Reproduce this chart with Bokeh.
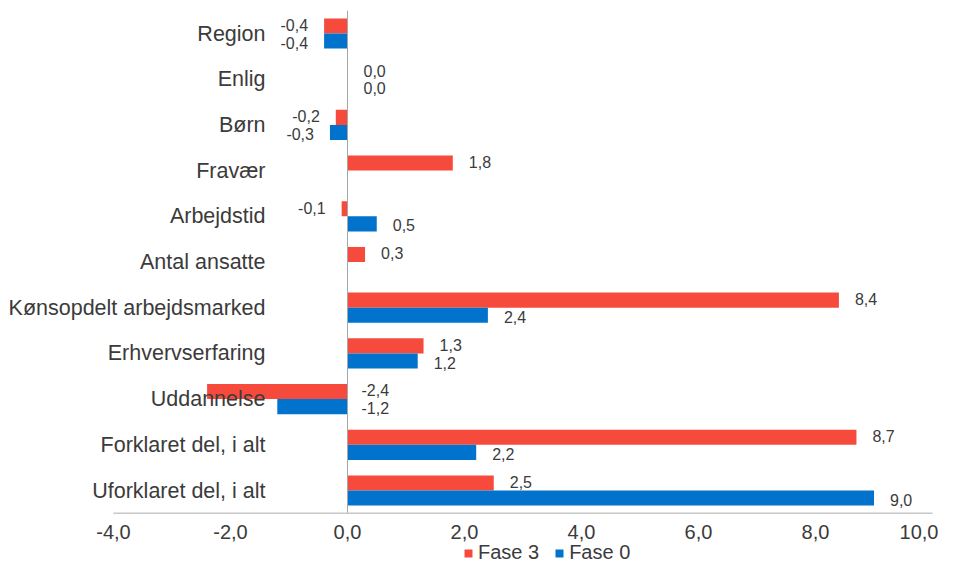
from bokeh.plotting import figure
from bokeh.models import Range1d, FixedTicker, ColumnDataSource, Legend, LegendItem
from bokeh.transform import dodge
from bokeh.core.properties import value
from bokeh.embed import file_html
from bokeh.resources import INLINE

categories = ["Region", "Enlig", "Børn", "Fravær", "Arbejdstid", "Antal ansatte",
              "Kønsopdelt arbejdsmarked", "Erhvervserfaring", "Uddannelse",
              "Forklaret del, i alt", "Uforklaret del, i alt"]
fase3 = [-0.4, 0.0, -0.2, 1.8, -0.1, 0.3, 8.4, 1.3, -2.4, 8.7, 2.5]
fase0 = [-0.4, 0.0, -0.3, None, 0.5, None, 2.4, 1.2, -1.2, 2.2, 9.0]
series_names = ["Fase 3", "Fase 0"]
x_ticks = [-4, -2, 0, 2, 4, 6, 8, 10]
x_tick_labels = ["-4,0", "-2,0", "0,0", "2,0", "4,0", "6,0", "8,0", "10,0"]

RED = "#F64B3C"
BLUE = "#0273CC"
FONT = "Liberation Sans"
TXT = "#3b3b3b"

W, H = 938, 564
# layout in pixels (frame = whole canvas)
X_LEFT_PX, X_RIGHT_PX = 113, 932          # where first / last tick sit
Y_TOP_PX, Y_BOT_PX = 33, 490              # centres of first / last category
n = len(categories)
xs_per_px = (x_ticks[-1] - x_ticks[0]) / (X_RIGHT_PX - X_LEFT_PX)
ys_per_px = (n - 1) / (Y_BOT_PX - Y_TOP_PX)
x_range = Range1d(x_ticks[0] - X_LEFT_PX * xs_per_px, x_ticks[-1] + (W - X_RIGHT_PX) * xs_per_px)
y_range = Range1d(0 - (H - Y_BOT_PX) * ys_per_px, (n - 1) + Y_TOP_PX * ys_per_px)

p = figure(width=W, height=H, output_backend="svg", toolbar_location=None,
           x_range=x_range, y_range=y_range, title=None,
           min_border_left=0, min_border_right=0, min_border_top=0, min_border_bottom=0)
p.outline_line_color = None
p.xgrid.visible = False
p.ygrid.visible = False
p.background_fill_color = "white"
p.border_fill_color = "white"

ypos = [n - 1 - i for i in range(n)]

def clean(vals):
    return [float("nan") if v is None else v for v in vals]

src = ColumnDataSource(dict(y=ypos, f3=clean(fase3), f0=clean(fase0)))
r3 = p.hbar(y=dodge("y", 0.165), left=0, right="f3", height=0.33,
            source=src, fill_color=RED, line_color=None)
r0 = p.hbar(y=dodge("y", -0.165), left=0, right="f0", height=0.33,
            source=src, fill_color=BLUE, line_color=None)

# axis lines (only over the data area)
p.segment(x0=[0], y0=[-0.5], x1=[0], y1=[n - 0.5], line_color="#a6a6a6", line_width=1)
p.segment(x0=[x_ticks[0]], y0=[-0.5], x1=[x_ticks[-1]], y1=[-0.5],
          line_color="#c8c8c8", line_width=1.5)

# data labels
def label_source(vals):
    xs, ys, txt, align, off = [], [], [], [], []
    for y, v in zip(ypos, vals):
        if v is None:
            continue
        s = f"{v:.1f}".replace(".", ",")
        if v <= -1:
            xs.append(0.0); align.append("left"); off.append(14)
        elif v < 0:
            xs.append(v); align.append("right"); off.append(-16)
        else:
            xs.append(v); align.append("left"); off.append(16)
        ys.append(y); txt.append(s)
    return ColumnDataSource(dict(x=xs, y=ys, t=txt, a=align, o=off))

for vals, dy in ((fase3, 0.19), (fase0, -0.2)):
    ls = label_source(vals)
    p.text(x="x", y=dodge("y", dy), text="t", source=ls,
           text_align="a", x_offset="o", text_baseline="middle",
           text_font=value(FONT), text_font_size="16px", text_color=TXT)

# category axis at zero
ya = p.yaxis[0]
ya.fixed_location = 0
ya.ticker = FixedTicker(ticks=ypos)
ya.major_label_overrides = {y: c for y, c in zip(ypos, categories)}
ya.axis_line_color = None
ya.major_tick_line_color = None
ya.minor_tick_line_color = None
ya.major_tick_out = 0
ya.major_tick_in = 0
ya.major_label_standoff = 82
ya.major_label_text_font = FONT
ya.major_label_text_font_size = "21.5px"
ya.major_label_text_color = TXT

# value axis along the bottom of the categories
xa = p.xaxis[0]
xa.fixed_location = -0.5
xa.ticker = FixedTicker(ticks=x_ticks)
xa.major_label_overrides = {t: l for t, l in zip(x_ticks, x_tick_labels)}
xa.axis_line_color = None
xa.major_tick_line_color = None
xa.minor_tick_line_color = None
xa.major_tick_out = 0
xa.major_tick_in = 0
xa.major_label_standoff = 12
xa.major_label_text_font = FONT
xa.major_label_text_font_size = "20px"
xa.major_label_text_color = TXT

legend = Legend(items=[LegendItem(label=series_names[0], renderers=[r3]),
                       LegendItem(label=series_names[1], renderers=[r0])],
                location=(463, 0), orientation="horizontal",
                glyph_width=10, glyph_height=10, label_standoff=5, spacing=15,
                padding=0, margin=0, border_line_color=None, background_fill_alpha=0,
                label_text_font=FONT, label_text_font_size="20px", label_text_color=TXT)
p.add_layout(legend)

open("out.html", "w").write(file_html(p, INLINE))
